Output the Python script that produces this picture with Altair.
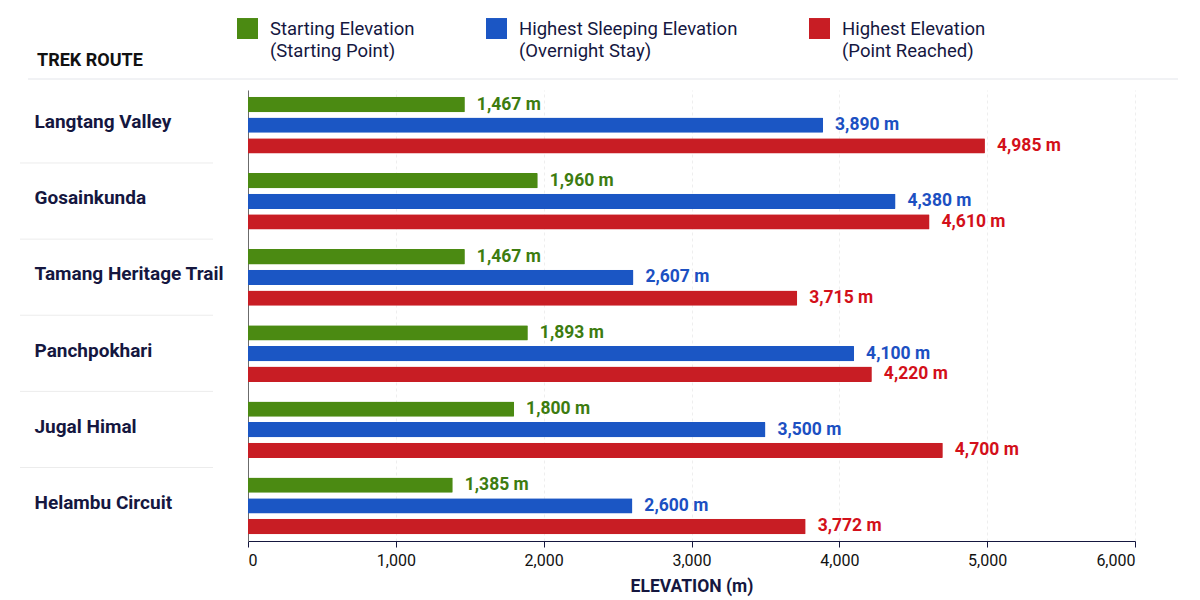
import altair as alt
import pandas as pd

# Trek routes and their elevations (metres)
routes = [
    "Langtang Valley",
    "Gosainkunda",
    "Tamang Heritage Trail",
    "Panchpokhari",
    "Jugal Himal",
    "Helambu Circuit",
]
start_elev = [1467, 1960, 1467, 1893, 1800, 1385]
sleep_elev = [3890, 4380, 2607, 4100, 3500, 2600]
high_elev = [4985, 4610, 3715, 4220, 4700, 3772]

series = [
    "Starting Elevation|(Starting Point)",
    "Highest Sleeping Elevation|(Overnight Stay)",
    "Highest Elevation|(Point Reached)",
]
bar_colors = ["#4b8a12", "#1b56c4", "#c81d24"]
label_colors = ["#3d7c10", "#1c50c2", "#d3101a"]
x_ticks = [0, 1000, 2000, 3000, 4000, 5000, 6000]

rows = []
for vals, s, lc in zip([start_elev, sleep_elev, high_elev], series, label_colors):
    for r, v in zip(routes, vals):
        rows.append({"route": r, "series": s, "elev": v,
                     "label": f"{v:,} m", "lcolor": lc})
df = pd.DataFrame(rows)
sep_df = pd.DataFrame({"route": routes[1:]})
head_df = pd.DataFrame({"text": ["TREK ROUTE"]})

NAVY = "#15173f"

# square swatch drawn slightly below the entry centre, level with the first label line
SWATCH = "M-1,-0.14H1V1.86H-1Z"

y_enc = alt.Y(
    "route:N",
    sort=routes,
    scale=alt.Scale(paddingInner=0.256, paddingOuter=0.09),
    axis=alt.Axis(
        title=None, labelAlign="left", labelPadding=214, ticks=False,
        labelFontSize=19, labelFontWeight="bold", labelColor=NAVY,
        labelLimit=230, domainColor="#6b6b6b", labelBaseline="middle",
        labelOffset=-3,
    ),
)
yoff_enc = alt.YOffset("series:N", sort=series, scale=alt.Scale(paddingInner=0.26))
x_enc = alt.X(
    "elev:Q",
    scale=alt.Scale(domain=[0, 6000]),
    axis=alt.Axis(
        values=x_ticks, format=",d", title="ELEVATION (m)",
        titleFontSize=17.5, titleFontWeight="bold", titleColor=NAVY,
        titlePadding=9, labelFontSize=16, labelColor="#111111",
        labelPadding=5, tickColor=NAVY, domainColor=NAVY, tickSize=6,
        grid=True, gridColor="#eeeeee", gridDash=[3, 3],
    ),
)

bars = alt.Chart(df).mark_bar(cornerRadiusEnd=1).encode(
    x=x_enc,
    y=y_enc,
    yOffset=yoff_enc,
    color=alt.Color(
        "series:N",
        sort=series,
        scale=alt.Scale(domain=series, range=bar_colors),
        legend=alt.Legend(
            title=None, orient="none", legendX=-11, legendY=-81,
            direction="horizontal", symbolType=SWATCH, symbolSize=441,
            symbolStrokeWidth=0, symbolOpacity=1, labelFontSize=18.5,
            labelColor=NAVY, labelExpr="split(datum.label, '|')",
            columnPadding=71, labelOffset=12, labelLimit=320,
            labelBaseline="top",
        ),
    ),
)

labels = alt.Chart(df).mark_text(
    align="left", baseline="middle", dx=12, fontSize=17.5, fontWeight="bold"
).encode(
    x="elev:Q",
    y=alt.Y("route:N", sort=routes),
    yOffset=alt.YOffset("series:N", sort=series),
    text="label:N",
    color=alt.Color("lcolor:N", scale=None),
)

separators = alt.Chart(sep_df).mark_rule(color="#ececec", strokeWidth=1).encode(
    y=alt.Y("route:N", sort=routes, bandPosition=0),
    yOffset=alt.value(-10),
    x=alt.value(-228),
    x2=alt.value(-35),
)

header_rule = alt.Chart(head_df).mark_rule(color="#e3e5ea", strokeWidth=1).encode(
    x=alt.value(-220), x2=alt.value(930), y=alt.value(-11),
)

header_text = alt.Chart(head_df).mark_text(
    align="left", baseline="middle", fontSize=18, fontWeight="bold",
    color="#111111",
).encode(
    x=alt.value(-211), y=alt.value(-29), text="text:N",
)

chart = (
    alt.layer(separators, header_rule, header_text, bars, labels)
    .properties(
        width=887,
        height=451,
        autosize=alt.AutoSizeParams(type="none"),
        padding={"left": 248, "top": 90, "right": 65, "bottom": 59},
    )
    .configure(font="Roboto", style={"guide-label": {"lineHeight": 22}})
    .configure_view(stroke=None)
)

chart.save("out.html", embed_options={"renderer": "svg", "actions": False})
